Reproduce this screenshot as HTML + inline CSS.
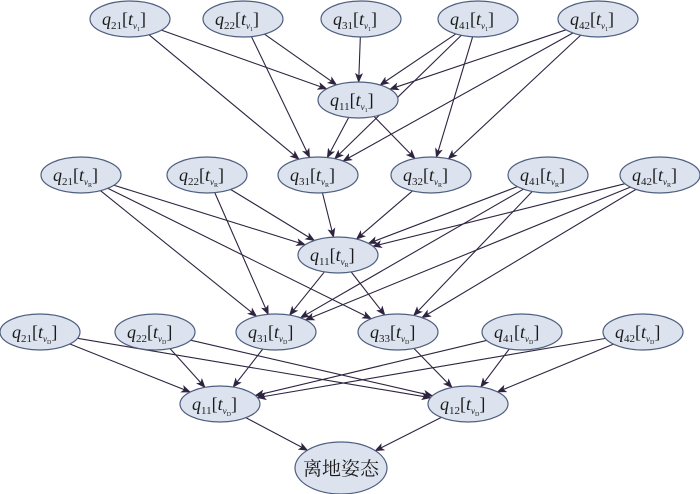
<!DOCTYPE html>
<html><head><meta charset="utf-8"><style>
html,body{margin:0;padding:0;background:#fff;}
svg{display:block;}
</style></head><body>
<svg id="s" width="700" height="494" viewBox="0 0 700 494" xmlns="http://www.w3.org/2000/svg">
<defs><marker id="a" markerWidth="10" markerHeight="8" refX="9" refY="4" orient="auto" markerUnits="userSpaceOnUse"><path d="M0,0 L10,4 L0,8 L2.5,4 z" fill="#2e2440"/></marker></defs>
<g id="e"></g><g id="n"></g>
</svg>
<script>
var N={
a1:[130,19,'21','1'],a2:[243,19,'22','1'],a3:[361,19,'31','1'],a4:[478,19,'41','1'],a5:[598,19,'42','1'],
b1:[358,100,'11','1'],
c1:[81,175,'21','R'],c2:[207,175,'22','R'],c3:[318,175,'31','R'],c4:[431,175,'32','R'],c5:[548,175,'41','R'],c6:[660,175,'42','R'],
d1:[338,255,'11','R'],
f1:[40,332,'21','D'],f2:[155,332,'22','D'],f3:[276,332,'31','D'],f4:[398,332,'33','D'],f5:[522,332,'41','D'],f6:[643,332,'42','D'],
g1:[220,404,'11','D'],g2:[468,404,'12','D'],
z:[341,468,null]
};
var E=[['a1','b1'],['a1','c3'],['a2','b1'],['a2','c3'],['a3','b1'],['a4','b1'],['a4','c3'],['a4','c4'],['a5','b1'],['a5','c3'],['a5','c4'],['b1','c3'],['b1','c4'],
['c3','d1'],['c4','d1'],['c1','d1'],['c1','f3'],['c1','f4'],['c2','d1'],['c2','f3'],['c5','d1'],['c5','f3'],['c5','f4'],['c6','d1'],['c6','f3'],['c6','f4'],['d1','f3'],['d1','f4'],
['f1','g1'],['f1','g2'],['f2','g1'],['f2','g2'],['f3','g1'],['f4','g2'],['f5','g1'],['f5','g2'],['f6','g1'],['f6','g2'],['g1','z'],['g2','z']];
function R(k){return k=='z'?[46,26]:[40,18];}
function clip(c,r,dx,dy){var t=1/Math.sqrt(dx*dx/(r[0]*r[0])+dy*dy/(r[1]*r[1]));return [c[0]+dx*t,c[1]+dy*t];}
var eg=document.getElementById('e'),ng=document.getElementById('n'),h='';
E.forEach(function(p){var A=N[p[0]],B=N[p[1]],dx=B[0]-A[0],dy=B[1]-A[1];
var s=clip(A,R(p[0]),dx,dy),t=clip(B,R(p[1]),-dx,-dy);
h+='<line x1="'+s[0]+'" y1="'+s[1]+'" x2="'+t[0]+'" y2="'+t[1]+'" stroke="#2e2440" stroke-width="1.1" marker-end="url(#a)"/>';});
eg.innerHTML=h;h='';
var F='font-family="Liberation Serif, Noto Serif CJK SC, serif" fill="#1a1a1a"';
for(var k in N){var c=N[k],r=R(k);
h+='<ellipse cx="'+c[0]+'" cy="'+c[1]+'" rx="'+r[0]+'" ry="'+r[1]+'" fill="#dce3ee" stroke="#4f5f80" stroke-width="1.2"/>';
if(!c[2]){h+='<text '+F+' x="'+c[0]+'" y="'+(c[1]+7)+'" text-anchor="middle" font-size="19">离地姿态</text>';}
else{var x=c[0]-28,y=c[1]+6;
h+='<text '+F+' x="'+x+'" y="'+y+'" font-size="18"><tspan font-style="italic">q</tspan><tspan font-size="11" dy="4">'+c[2]+'</tspan><tspan dy="-4">[</tspan><tspan font-style="italic">t</tspan><tspan font-size="9" font-style="italic" dy="4">v</tspan><tspan font-size="6" dy="2">'+c[3]+'</tspan><tspan dy="-6">]</tspan></text>';}}
ng.innerHTML=h;
</script>
</body></html>
